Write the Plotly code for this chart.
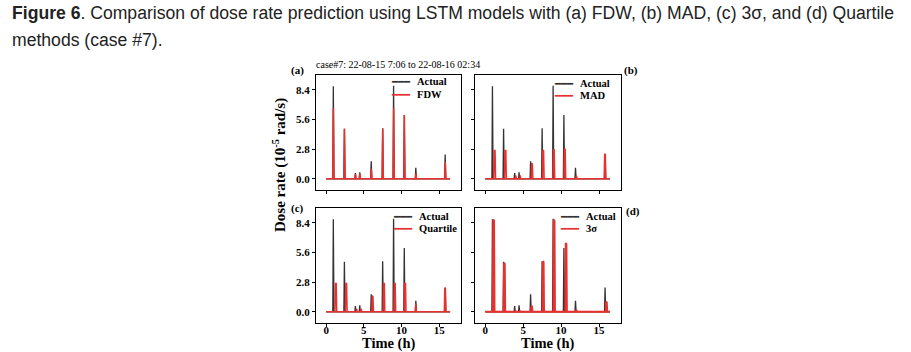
import plotly.graph_objects as go

# ---------------- data ----------------
actual_t = [0.00, 0.88, 0.95, 1.03, 2.35, 2.42, 2.50, 3.81, 3.88, 3.95, 4.39, 4.46, 4.53,
            5.91, 5.98, 6.06, 7.43, 7.50, 7.58, 8.88, 8.95, 9.03, 10.30, 10.37, 10.45,
            11.83, 11.90, 11.98, 15.73, 15.80, 15.88, 16.45]
actual_y = [0.00, 0.00, 8.75, 0.00, 0.00, 4.72, 0.00, 0.00, 0.56, 0.00, 0.00, 0.62, 0.00,
            0.00, 1.65, 0.00, 0.00, 4.78, 0.00, 0.00, 8.78, 0.00, 0.00, 6.03, 0.00,
            0.00, 1.05, 0.00, 0.00, 2.30, 0.00, 0.00]

fdw_t = [0.00, 0.89, 0.96, 1.04, 2.36, 2.43, 2.51, 3.82, 3.89, 3.96, 4.40, 4.47, 4.54,
         5.92, 5.99, 6.07, 7.44, 7.51, 7.59, 8.89, 8.96, 9.04, 10.31, 10.38, 10.46,
         11.84, 11.91, 11.99, 15.74, 15.81, 15.89, 16.45]
fdw_y = [0.00, 0.00, 6.66, 0.00, 0.00, 4.72, 0.00, 0.00, 0.45, 0.00, 0.00, 0.50, 0.00,
         0.00, 0.95, 0.00, 0.00, 4.76, 0.00, 0.00, 6.66, 0.00, 0.00, 6.03, 0.00,
         0.00, 0.47, 0.00, 0.00, 1.58, 0.00, 0.00]

mad_t = [0.00, 1.12, 1.19, 1.29, 1.36, 2.54, 2.61, 2.71, 2.78, 3.96, 4.03, 4.10, 4.54,
         4.61, 4.68, 6.06, 6.13, 6.21, 6.28, 7.52, 7.59, 7.69, 7.76, 8.92, 8.99, 9.09,
         9.16, 10.37, 10.44, 10.54, 10.61, 11.96, 12.03, 12.10, 15.68, 15.75, 15.83,
         15.90, 16.45]
mad_y = [0.00, 0.00, 2.67, 2.67, 0.00, 0.00, 2.67, 2.67, 0.00, 0.00, 0.30, 0.00, 0.00,
         0.32, 0.00, 0.00, 1.48, 1.40, 0.00, 0.00, 2.67, 2.67, 0.00, 0.00, 2.74, 2.74,
         0.00, 0.00, 2.80, 2.80, 0.00, 0.00, 0.30, 0.00, 0.00, 2.36, 2.30, 0.00, 0.00]

quart_t = [0.00, 1.16, 1.23, 1.33, 1.40, 2.54, 2.61, 2.71, 2.78, 3.98, 4.05, 4.12, 4.58,
           4.65, 4.72, 6.06, 6.13, 6.21, 6.28, 7.55, 7.62, 7.72, 7.79, 8.99, 9.06, 9.16,
           9.23, 10.36, 10.43, 10.53, 10.60, 11.84, 11.90, 11.97, 15.68, 15.75, 15.83,
           15.90, 16.45]
quart_y = [0.00, 0.00, 2.67, 2.67, 0.00, 0.00, 2.67, 2.67, 0.00, 0.00, 0.28, 0.00, 0.00,
           0.30, 0.00, 0.00, 1.54, 1.45, 0.00, 0.00, 2.67, 2.67, 0.00, 0.00, 2.67, 2.67,
           0.00, 0.00, 2.67, 2.67, 0.00, 0.00, 0.79, 0.00, 0.00, 2.26, 2.20, 0.00, 0.00]

sigma_t = [0.00, 1.00, 1.06, 1.16, 1.22, 2.43, 2.49, 2.57, 2.63, 3.92, 3.98, 4.05, 4.50,
           4.56, 4.63, 6.03, 6.09, 6.16, 6.22, 7.55, 7.61, 7.69, 7.75, 8.99, 9.05, 9.13,
           9.19, 10.56, 10.62, 10.70, 10.76, 11.95, 12.01, 12.08, 15.88, 15.94, 16.02,
           16.08, 16.45]
sigma_y = [0.00, 0.00, 8.72, 8.60, 0.00, 0.00, 4.60, 4.55, 0.00, 0.00, 0.10, 0.00, 0.00,
           0.10, 0.00, 0.00, 0.55, 0.50, 0.00, 0.00, 4.78, 4.72, 0.00, 0.00, 8.70, 8.60,
           0.00, 0.00, 6.50, 6.40, 0.00, 0.00, 0.20, 0.00, 0.00, 0.95, 0.90, 0.00, 0.00]

y_ticks = [0.0, 2.8, 5.6, 8.4]
y_tick_labels = ["0.0", "2.8", "5.6", "8.4"]
x_ticks = [0, 5, 10, 15]
x_tick_labels = ["0", "5", "10", "15"]

series_names = ["FDW", "MAD", "Quartile", "3σ"]
series_t = [fdw_t, mad_t, quart_t, sigma_t]
series_y = [fdw_y, mad_y, quart_y, sigma_y]
panel_letters = ["(a)", "(b)", "(c)", "(d)"]

# ---------------- layout geometry ----------------
W, H = 911, 352
def px(x):
    return x / W
def py(y):
    return 1 - y / H

xdom = [[px(316), px(461)], [px(475), px(621)]]
ydom = [[py(190), py(75)], [py(323), py(208)]]

BLACK = "#333333"
RED = "#e8302f"
SERIF = "Liberation Serif, Times New Roman, serif"

fig = go.Figure()

layout = dict(
    width=W, height=H,
    margin=dict(l=0, r=0, t=0, b=0),
    paper_bgcolor="white", plot_bgcolor="white",
    showlegend=False,
)

for i in range(4):
    name, tt, yy = series_names[i], series_t[i], series_y[i]
    row, col = divmod(i, 2)
    n = i + 1
    xa = "x" if n == 1 else f"x{n}"
    ya = "y" if n == 1 else f"y{n}"
    fig.add_trace(go.Scatter(x=actual_t, y=actual_y, mode="lines", name="Actual",
                             line=dict(color=BLACK, width=1.3), xaxis=xa, yaxis=ya))
    fig.add_trace(go.Scatter(x=tt, y=yy, mode="lines", name=name,
                             line=dict(color=RED, width=2.0 if name == "3σ" else 1.5),
                             xaxis=xa, yaxis=ya))
    axkey = "xaxis" if n == 1 else f"xaxis{n}"
    aykey = "yaxis" if n == 1 else f"yaxis{n}"
    layout[axkey] = dict(
        domain=xdom[col], anchor=ya, range=[-1.35, 17.9],
        tickvals=x_ticks, ticktext=x_tick_labels, showticklabels=(row == 1),
        ticks="outside", ticklen=3, tickwidth=1, tickcolor="black",
        ticklabelstandoff=-6,
        showline=True, linecolor="black", linewidth=1, mirror=True,
        showgrid=False, zeroline=False,
        tickfont=dict(family=SERIF, size=11, color="black", weight="bold"),
    )
    layout[aykey] = dict(
        domain=ydom[row], anchor=xa, range=[-1.05, 9.8],
        tickvals=y_ticks, ticktext=y_tick_labels, showticklabels=(col == 0),
        ticks="outside", ticklen=3, tickwidth=1, tickcolor="black",
        showline=True, linecolor="black", linewidth=1, mirror=True,
        showgrid=False, zeroline=False,
        tickfont=dict(family=SERIF, size=11, color="black", weight="bold"),
    )

fig.update_layout(**layout)

annotations = []
TITLE_FONT = "Liberation Sans, Arial, sans-serif"
title_html = ("<b>Figure 6</b>. Comparison of dose rate prediction using LSTM models with (a) FDW, "
              "(b) MAD, (c) 3σ, and (d) Quartile")
annotations.append(dict(text=title_html, x=px(10), y=py(13), xref="paper", yref="paper",
                        xanchor="left", yanchor="middle", showarrow=False,
                        font=dict(family=TITLE_FONT, size=17.6, color="#222222")))
annotations.append(dict(text="methods (case #7).", x=px(10), y=py(40), xref="paper", yref="paper",
                        xanchor="left", yanchor="middle", showarrow=False,
                        font=dict(family=TITLE_FONT, size=17.6, color="#222222")))
annotations.append(dict(text="case#7: 22-08-15 7:06 to 22-08-16 02:34", x=px(314), y=py(64),
                        xref="paper", yref="paper", xanchor="left", yanchor="middle", showarrow=False,
                        font=dict(family=SERIF, size=10, color="black")))
label_pos = [(297, 70), (631, 70), (297, 208), (633, 211)]
for (lx, ly), lab in zip(label_pos, panel_letters):
    annotations.append(dict(text=f"<b>{lab}</b>", x=px(lx), y=py(ly), xref="paper", yref="paper",
                            xanchor="center", yanchor="middle", showarrow=False,
                            font=dict(family=SERIF, size=11, color="black")))

# legends drawn as text (line glyph + label), top-right inside each panel
legend_anchor = [(413, 82), (576, 83), (415, 216), (582, 216)]
for i, (lx, ly) in enumerate(legend_anchor):
    for k, (lab, colr) in enumerate([("Actual", BLACK), (series_names[i], RED)]):
        yy = ly + 12 * k
        annotations.append(dict(text="━━━", x=px(lx), y=py(yy), xref="paper", yref="paper",
                                xanchor="right", yanchor="middle", showarrow=False,
                                font=dict(family="DejaVu Sans", size=10, color=colr)))
        annotations.append(dict(text=f"<b>{lab}</b>", x=px(lx + 2), y=py(yy), xref="paper", yref="paper",
                                xanchor="left", yanchor="middle", showarrow=False,
                                font=dict(family=SERIF, size=10.5, color="black")))

annotations.append(dict(text="<b>Dose rate (10<sup>-5</sup> rad/s)</b>", x=px(279), y=py(165),
                        xref="paper", yref="paper", xanchor="center", yanchor="middle",
                        textangle=-90, showarrow=False,
                        font=dict(family=SERIF, size=15, color="black")))
for c in range(2):
    annotations.append(dict(text="<b>Time (h)</b>", x=(xdom[c][0] + xdom[c][1]) / 2, y=py(343.5),
                            xref="paper", yref="paper", xanchor="center", yanchor="middle",
                            showarrow=False, font=dict(family=SERIF, size=14.5, color="black")))
fig.update_layout(annotations=annotations)

fig.write_html("out.html")
